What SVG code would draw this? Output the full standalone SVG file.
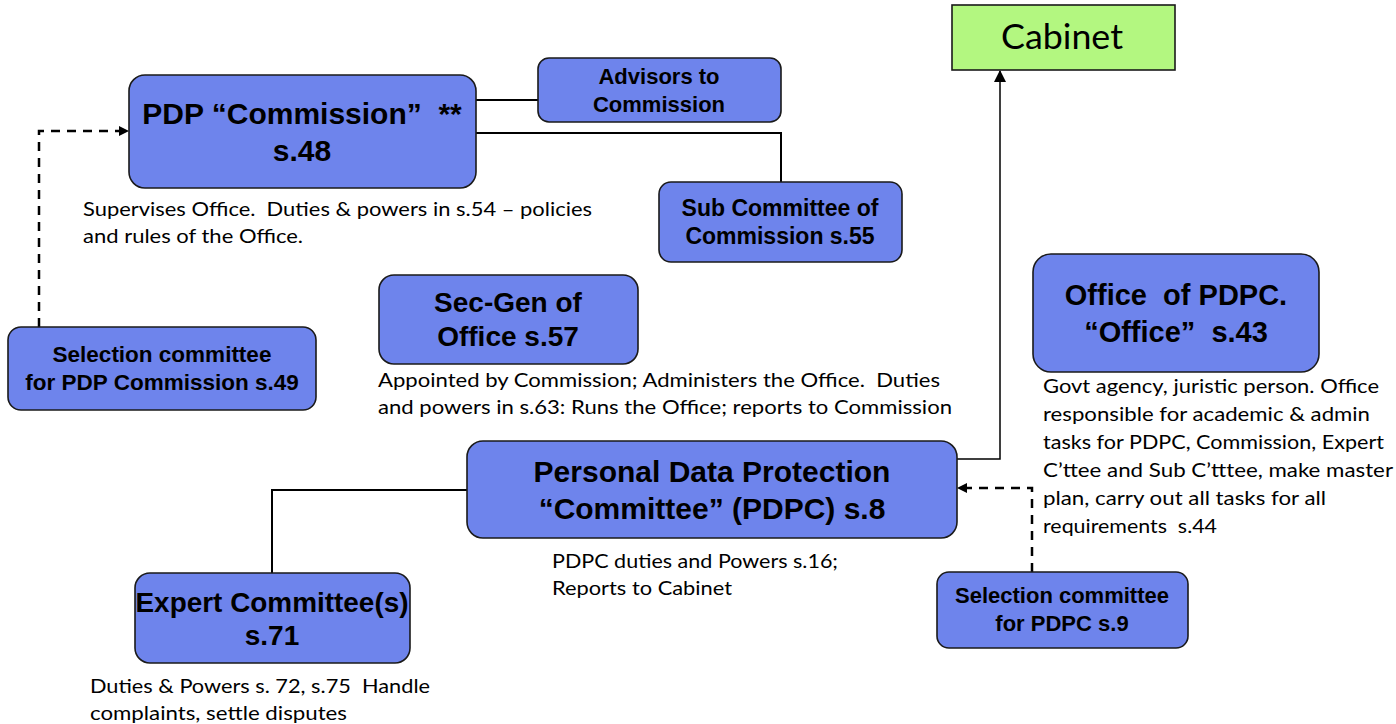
<svg xmlns="http://www.w3.org/2000/svg" width="1396" height="724" viewBox="0 0 1396 724">
<style>
.node{fill:#6e84ec;stroke:#1a1a1a;stroke-width:1.6}
.cab{fill:#b3f780;stroke:#1a1a1a;stroke-width:1.6}
.t{font-family:"Liberation Sans",Arial,sans-serif;font-weight:bold;fill:#000;text-anchor:middle;white-space:pre}
.d{font-family:Lato,"Open Sans",sans-serif;font-size:19px;fill:#000;white-space:pre}
.c{fill:none;stroke:#000;stroke-width:2}
.cs{fill:none;stroke:#000;stroke-width:1.5}
.dash{fill:none;stroke:#000;stroke-width:2.5;stroke-dasharray:9 7}
</style>
<defs>
<marker id="ah" markerWidth="10" markerHeight="10" refX="9" refY="5" orient="auto" markerUnits="userSpaceOnUse">
<path d="M0,0 L10,5 L0,10 z" fill="#000"/>
</marker>
<marker id="ah2" markerWidth="12" markerHeight="12" refX="11" refY="6" orient="auto" markerUnits="userSpaceOnUse">
<path d="M0,0 L12,6 L0,12 z" fill="#000"/>
</marker>
</defs>
<g id="connectors">
<path class="c" d="M476,100 H538"/>
<path class="c" d="M476,133 H781 V182"/>
<path class="c" d="M272,573 V490 H467"/>
<path class="cs" d="M957,459 H1000 V71" marker-end="url(#ah2)"/>
<path class="dash" d="M39,327 V131 H128" marker-end="url(#ah)"/>
<path class="dash" d="M1032,572 V488 H958" marker-end="url(#ah)"/>
</g>
<g id="commission">
<rect class="node" x="129" y="75" width="347" height="113" rx="16"/>
<text class="t" font-size="30" x="302" y="124">PDP “Commission”  **</text>
<text class="t" font-size="30" x="302" y="161">s.48</text>
<text class="d" x="83" y="216" textLength="509" lengthAdjust="spacingAndGlyphs">Supervises Office.  Duties &amp; powers in s.54 – policies</text>
<text class="d" x="83" y="243" textLength="220" lengthAdjust="spacingAndGlyphs">and rules of the Office.</text>
</g>
<g id="advisors">
<rect class="node" x="538" y="58" width="243" height="64" rx="11"/>
<text class="t" font-size="22" x="659" y="84">Advisors to</text>
<text class="t" font-size="22" x="659" y="112">Commission</text>
</g>
<g id="subcommittee">
<rect class="node" x="659" y="182" width="243" height="80" rx="12"/>
<text class="t" font-size="23" x="780" y="216">Sub Committee of</text>
<text class="t" font-size="23" x="780" y="244">Commission s.55</text>
</g>
<g id="cabinet">
<rect class="cab" x="952" y="5" width="223" height="65"/>
<text x="1062" y="49" font-family="Lato,'Open Sans',sans-serif" font-size="35" text-anchor="middle" textLength="122" lengthAdjust="spacingAndGlyphs">Cabinet</text>
</g>
<g id="office">
<rect class="node" x="1033" y="254" width="286" height="118" rx="18"/>
<text class="t" font-size="29" x="1176" y="305">Office  of PDPC.</text>
<text class="t" font-size="29" x="1176" y="342">“Office”  s.43</text>
<text class="d" x="1043" y="393" textLength="336" lengthAdjust="spacingAndGlyphs">Govt agency, juristic person. Office</text>
<text class="d" x="1043" y="421" textLength="327" lengthAdjust="spacingAndGlyphs">responsible for academic &amp; admin</text>
<text class="d" x="1043" y="449" textLength="341" lengthAdjust="spacingAndGlyphs">tasks for PDPC, Commission, Expert</text>
<text class="d" x="1043" y="477" textLength="350" lengthAdjust="spacingAndGlyphs">C’ttee and Sub C’tttee, make master</text>
<text class="d" x="1043" y="505" textLength="283" lengthAdjust="spacingAndGlyphs">plan, carry out all tasks for all</text>
<text class="d" x="1043" y="533" textLength="174" lengthAdjust="spacingAndGlyphs">requirements  s.44</text>
</g>
<g id="secgen">
<rect class="node" x="379" y="275" width="259" height="89" rx="15"/>
<text class="t" font-size="28" x="508" y="312">Sec-Gen of</text>
<text class="t" font-size="28" x="508" y="346">Office s.57</text>
<text class="d" x="378" y="387" textLength="562" lengthAdjust="spacingAndGlyphs">Appointed by Commission; Administers the Office.  Duties</text>
<text class="d" x="378" y="414" textLength="574" lengthAdjust="spacingAndGlyphs">and powers in s.63: Runs the Office; reports to Commission</text>
</g>
<g id="selcommission">
<rect class="node" x="8" y="327" width="308" height="83" rx="13"/>
<text class="t" font-size="22.5" x="162" y="362">Selection committee</text>
<text class="t" font-size="22.5" x="162" y="390">for PDP Commission s.49</text>
</g>
<g id="pdpc">
<rect class="node" x="467" y="441" width="490" height="97" rx="16"/>
<text class="t" font-size="30" x="712" y="482">Personal Data Protection</text>
<text class="t" font-size="30" x="712" y="519">“Committee” (PDPC) s.8</text>
<text class="d" x="552" y="568" textLength="286" lengthAdjust="spacingAndGlyphs">PDPC duties and Powers s.16;</text>
<text class="d" x="552" y="595" textLength="180" lengthAdjust="spacingAndGlyphs">Reports to Cabinet</text>
</g>
<g id="selpdpc">
<rect class="node" x="937" y="572" width="251" height="76" rx="12"/>
<text class="t" font-size="22" x="1062" y="603">Selection committee</text>
<text class="t" font-size="22" x="1062" y="631">for PDPC s.9</text>
</g>
<g id="expert">
<rect class="node" x="135" y="573" width="275" height="90" rx="15"/>
<text class="t" font-size="28" x="272" y="612" textLength="273" lengthAdjust="spacingAndGlyphs">Expert Committee(s)</text>
<text class="t" font-size="28" x="272" y="645">s.71</text>
<text class="d" x="90" y="693" textLength="340" lengthAdjust="spacingAndGlyphs">Duties &amp; Powers s. 72, s.75  Handle</text>
<text class="d" x="90" y="720" textLength="257" lengthAdjust="spacingAndGlyphs">complaints, settle disputes</text>
</g>
</svg>
